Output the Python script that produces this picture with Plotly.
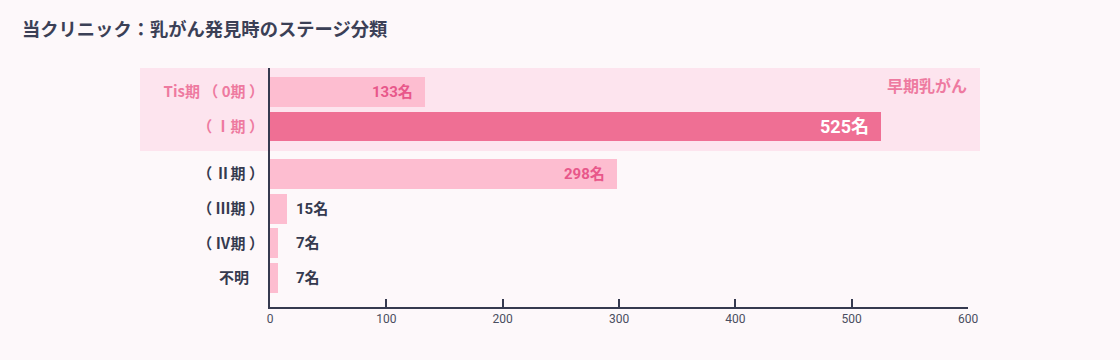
import plotly.graph_objects as go

categories = ["Tis期 （ 0期 ）", "（ Ⅰ期 ）", "（ Ⅱ期 ）", "（ Ⅲ期 ）", "（ Ⅳ期 ）", "不明　"]
values = [133, 525, 298, 15, 7, 7]
early_flags = [True, True, False, False, False, False]
value_unit = "名"
x_ticks = [0, 100, 200, 300, 400, 500, 600]
title_text = "当クリニック：乳がん発見時のステージ分類"
group_label = "早期乳がん"

PINK_LIGHT = "#fdbdd0"
PINK_DARK = "#ef6f94"
PINK_TEXT = "#e8578a"
LABEL_PINK = "#ee7aa0"
DARK = "#353a4f"
BG = "#fdf8fa"
BAND = "#fde4ee"

GROUP_GAP = 0.37
ypos = [i + (GROUP_GAP if not early_flags[i] else 0) for i in range(len(values))]
colors = [PINK_DARK if i == 1 else PINK_LIGHT for i in range(len(values))]

FONT = "Roboto, 'Noto Sans CJK JP', sans-serif"
TICK_FONT = "'Noto Sans CJK JP', Roboto, sans-serif"

fig = go.Figure()
fig.add_trace(go.Bar(
    x=values, y=ypos, orientation="h",
    marker=dict(color=colors, line=dict(width=0)),
    width=0.86, hoverinfo="skip",
))

ticktext = []
for c, e in zip(categories, early_flags):
    col = LABEL_PINK if e else DARK
    ticktext.append(f'<span style="color:{col}"><b>{c}</b></span>')

annotations = []
inside_threshold = 100
for i, v in enumerate(values):
    if v >= inside_threshold:
        col = "#ffffff" if i == 1 else PINK_TEXT
        size = 18 if i == 1 else 15
        annotations.append(dict(x=v, y=ypos[i], xref="x", yref="y", text=f"<b>{v}{value_unit}</b>",
                                showarrow=False, xanchor="right", xshift=-10,
                                font=dict(color=col, size=size, family=FONT)))
    else:
        annotations.append(dict(x=max(v, 15), y=ypos[i], xref="x", yref="y", text=f"<b>{v}{value_unit}</b>",
                                showarrow=False, xanchor="left", xshift=7,
                                font=dict(color=DARK, size=15, family=FONT)))

annotations.append(dict(x=1.0, y=-0.15, xref="paper", yref="y", text=f"<b>{group_label}</b>",
                        showarrow=False, xanchor="right", xshift=1,
                        font=dict(color=LABEL_PINK, size=16, family=FONT)))

L, R, T, B = 270, 152, 68, 53
plot_w = 1120 - L - R
ytop = -0.69
ybot = 5 + GROUP_GAP + 0.84

fig.add_shape(type="rect", xref="paper", yref="y",
              x0=(140 - L) / plot_w, x1=(980 - L) / plot_w,
              y0=ytop, y1=1 + 0.5 + 0.205,
              fillcolor=BAND, line=dict(width=0), layer="below")

fig.update_layout(
    width=1120, height=360,
    margin=dict(l=L, r=R, t=T, b=B),
    paper_bgcolor=BG, plot_bgcolor="rgba(0,0,0,0)",
    showlegend=False,
    font=dict(family=FONT, color=DARK),
    title=dict(text=f"<b>{title_text}</b>", x=22 / 1120, xanchor="left", y=1 - 30 / 360, yanchor="middle",
               font=dict(size=18.3, color="#3b4056", family=FONT)),
    annotations=annotations,
    bargap=0,
)
fig.update_xaxes(range=[0, 600], tickvals=x_ticks, showgrid=False, zeroline=False,
                 showline=True, linecolor=DARK, linewidth=2,
                 ticks="inside", ticklen=8, tickwidth=2, tickcolor=DARK,
                 tickfont=dict(size=12, color="#4a4e60", family=FONT), fixedrange=True)
fig.update_yaxes(range=[ybot, ytop], tickvals=ypos, ticktext=ticktext, showgrid=False, zeroline=False,
                 showline=True, linecolor=DARK, linewidth=2, ticks="", ticklabelstandoff=1,
                 tickfont=dict(size=15, family=TICK_FONT), fixedrange=True)

post = ("document.body.style.margin='0';document.body.style.padding='0';"
        f"document.body.style.background='{BG}';document.documentElement.style.background='{BG}';"
        "document.body.style.overflow='hidden';")
fig.write_html("out.html", post_script=post, config={"displayModeBar": False})
